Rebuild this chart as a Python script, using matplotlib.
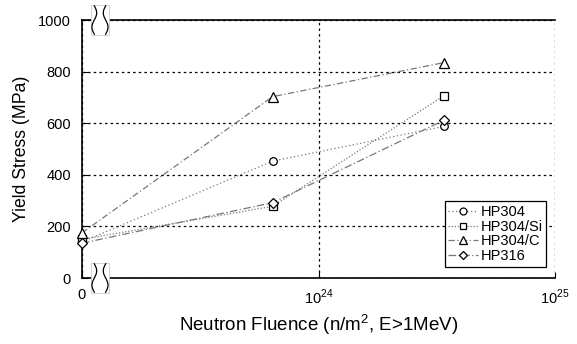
import numpy as np
from matplotlib import pyplot as plt
from matplotlib.lines import Line2D
from matplotlib.patches import Rectangle

plt.rcParams['font.family'] = ['Liberation Sans', 'DejaVu Sans']
plt.rcParams['mathtext.fontset'] = 'custom'
plt.rcParams['mathtext.rm'] = 'Liberation Sans'

# fluence (n/m^2); zero fluence is drawn at the left edge of the log axis
fluence = [0.0, 6.4e23, 3.4e24]
hp304 = [140, 453, 588]
hp304_si = [150, 278, 707]
hp304_c = [175, 703, 835]
hp316 = [135, 292, 612]

x_ticks = [1e23, 1e24, 1e25]
x_ticklabels = ['0', r'$10^{24}$', r'$10^{25}$']
y_ticks = [0, 200, 400, 600, 800, 1000]

X_MIN, X_MAX = 1e23, 1e25

fig = plt.figure(figsize=(5.77, 3.44), dpi=100)
ax = fig.add_axes([82 / 577, 66 / 344, 473 / 577, 258 / 344])

x = np.array(fluence)
x = np.where(x == 0, X_MIN, x)

series = [
    ('HP304', hp304, 'o', (0, (1, 2))),
    ('HP304/Si', hp304_si, 's', (0, (1, 1.5))),
    ('HP304/C', hp304_c, '^', (0, (5, 2, 1, 2))),
    ('HP316', hp316, 'D', (0, (6, 2, 1, 2))),
]
sizes = {'o': 5.5, 's': 5.5, '^': 6.5, 'D': 5}

for name, vals, mk, ls in series:
    ax.plot(x, vals, color='#777777', linestyle=ls, linewidth=0.9, clip_on=False, zorder=3)
    ax.plot(x, vals, linestyle='none', marker=mk, markersize=sizes[mk], markerfacecolor='white',
            markeredgecolor='black', markeredgewidth=0.9, clip_on=False, zorder=4)

ax.set_xscale('log')
ax.set_xlim(X_MIN, X_MAX)
ax.set_ylim(0, 1000)
ax.xaxis.set_major_locator(plt.FixedLocator(x_ticks))
ax.xaxis.set_minor_locator(plt.NullLocator())
ax.set_xticklabels(x_ticklabels)
ax.set_yticks(y_ticks)
ax.tick_params(direction='in', length=4, labelsize=10.5, width=0.8)
ax.tick_params(axis='x', pad=7)
ax.tick_params(axis='y', pad=8)

ax.grid(True, color='black', linestyle=(0, (2, 2.5)), linewidth=0.9)
ax.set_axisbelow(True)
for s in ['left', 'bottom', 'top']:
    ax.spines[s].set_linewidth(1.2)
ax.spines['right'].set_visible(False)

ax.set_xlabel(r'Neutron Fluence (n/m$^2$, E>1MeV)', fontsize=13.5, labelpad=4)
ax.set_ylabel('Yield Stress (MPa)', fontsize=12.7, labelpad=6)

# axis break marks at the top and bottom spines
t = np.linspace(-1, 1, 40)
for yb in (0.0, 1.0):
    ax.add_patch(Rectangle((0.018, yb - 0.06), 0.04, 0.12, transform=ax.transAxes,
                           facecolor='white', edgecolor='#cccccc', linewidth=0.6,
                           clip_on=False, zorder=5))
    for x0, sgn in ((0.026, 1), (0.050, -1)):
        xs = x0 + sgn * 0.005 * np.sin(np.pi * t)
        ax.add_line(Line2D(xs, yb + 0.055 * t, transform=ax.transAxes, color='black',
                           linewidth=0.9, clip_on=False, zorder=6))

handles = [Line2D([], [], color='#777777', linestyle=ls, linewidth=0.9, marker=mk,
                  markersize=sizes[mk] - 0.5, markerfacecolor='white', markeredgecolor='black',
                  markeredgewidth=0.9) for name, vals, mk, ls in series]
leg = ax.legend(handles, [s[0] for s in series], loc='lower right', fontsize=10.5,
                frameon=True, fancybox=False, edgecolor='black', framealpha=1,
                handlelength=2.0, handletextpad=0.2, labelspacing=0.05, borderpad=0.25,
                bbox_to_anchor=(0.997, 0.015))
leg.get_frame().set_linewidth(0.9)
leg.set_zorder(7)

fig.savefig('out.png', dpi=100)
